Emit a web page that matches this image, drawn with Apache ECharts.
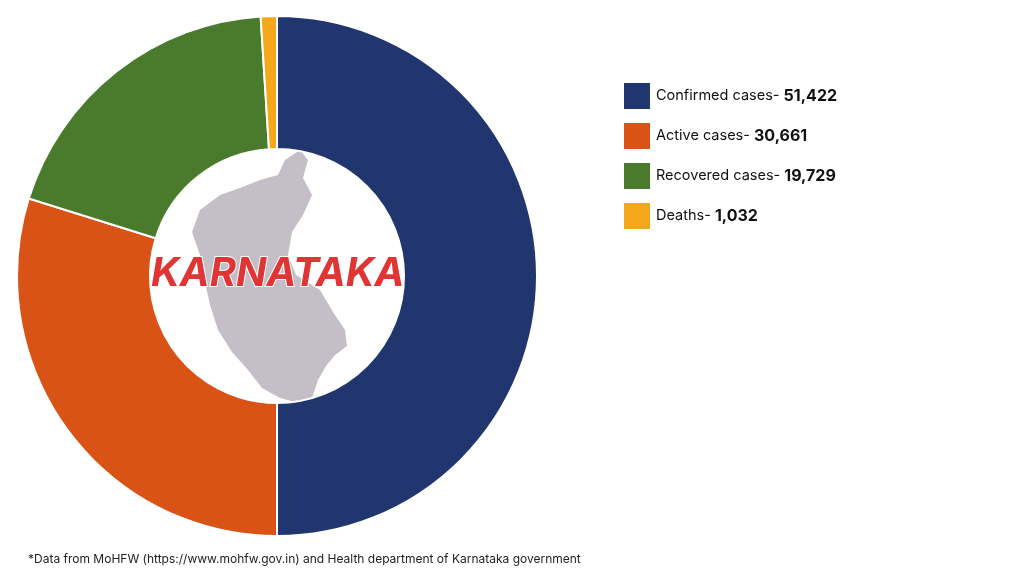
<!DOCTYPE html>
<html><head><meta charset="utf-8">
<script src="https://cdn.jsdelivr.net/npm/echarts@6/dist/echarts.min.js"></script>
<style>html,body{margin:0;padding:0;background:#fff}#c{width:1024px;height:576px}</style>
</head><body><div id="c"></div>
<script>
const categories = ["Confirmed cases", "Active cases", "Recovered cases", "Deaths"];
const values = [51422, 30661, 19729, 1032];
const labels = ["51,422", "30,661", "19,729", "1,032"];
const colors = ["#21356e", "#d95316", "#4a7a2c", "#f5a81c"];

const chart = echarts.init(document.getElementById('c'));
// rough decorative outline of the state map
const mapPts = [[300,150],[308,160],[303,178],[312,195],[303,215],[292,232],[288,255],[296,275],[320,290],[333,312],[345,330],[347,346],[335,355],[326,366],[318,380],[312,398],[295,402],[280,398],[262,388],[248,370],[232,352],[218,330],[210,305],[205,282],[200,255],[192,232],[200,210],[220,195],[240,188],[260,180],[278,175],[285,160]];
chart.setOption({
  animation: false,
  legend: {
    orient: 'vertical', left: 617, top: 76, itemWidth: 28, itemHeight: 28, itemGap: 10,
    icon: 'rect',
    data: categories,
    formatter: n => '{a|' + n + '- }{b|' + labels[categories.indexOf(n)] + '}',
    textStyle: { rich: { a: { fontSize: 14.5, color: '#111', fontFamily: 'Inter' }, b: { fontSize: 16, fontWeight: 'bold', color: '#111', fontFamily: 'Inter' } } }
  },
  graphic: [
    { type: 'polygon', shape: { points: mapPts }, style: { fill: '#c4bfc6' }, z: 1 },
    { type: 'text', left: 150, top: 253, style: { text: 'KARNATAKA', fill: '#e03535', font: 'italic bold 40px Inter', stroke: '#fff', lineWidth: 2 }, z: 2 },
    { type: 'text', left: 28, top: 553, style: { text: '*Data from MoHFW (https://www.mohfw.gov.in) and Health department of Karnataka government', fill: '#222', font: '12px Inter' } }
  ],
  series: [{
    type: 'pie', center: [277, 276], radius: [127, 260], startAngle: 90, clockwise: true,
    label: { show: false }, labelLine: { show: false },
    itemStyle: { borderColor: '#fff', borderWidth: 2 },
    data: categories.map((c, i) => ({ name: c, value: values[i], itemStyle: { color: colors[i] } }))
  }]
});
</script></body></html>
